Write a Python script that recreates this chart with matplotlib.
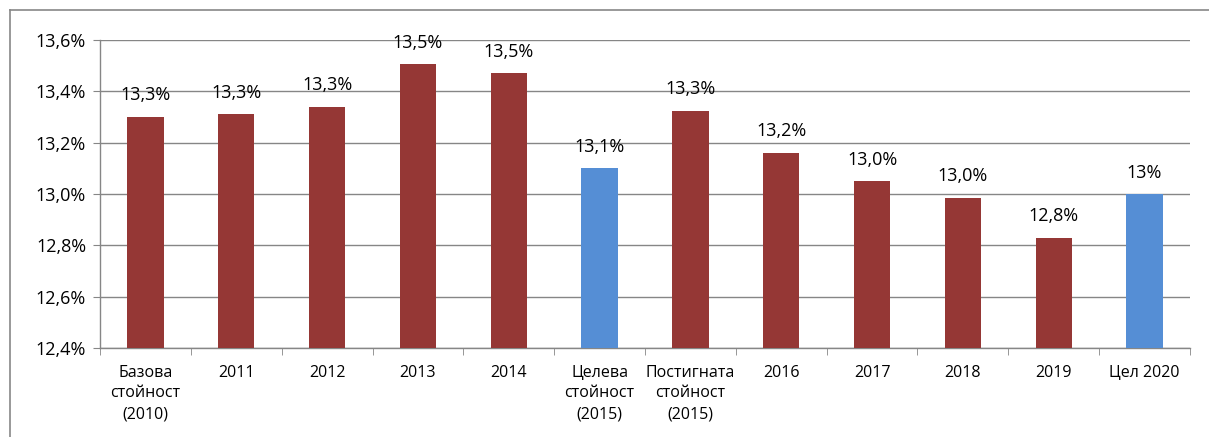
import matplotlib
matplotlib.use("Agg")
import matplotlib.pyplot as plt
from matplotlib.lines import Line2D

categories = ["Базова\nстойност\n(2010)", "2011", "2012", "2013", "2014",
              "Целева\nстойност\n(2015)", "Постигната\nстойност\n(2015)",
              "2016", "2017", "2018", "2019", "Цел 2020"]
values = [13.30, 13.31, 13.34, 13.505, 13.47, 13.10, 13.325, 13.16, 13.05, 12.985, 12.83, 13.00]
labels = ["13,3%", "13,3%", "13,3%", "13,5%", "13,5%", "13,1%", "13,3%",
          "13,2%", "13,0%", "13,0%", "12,8%", "13%"]
is_target = [False, False, False, False, False, True, False, False, False, False, False, True]
yticks = [12.4, 12.6, 12.8, 13.0, 13.2, 13.4, 13.6]
ytick_labels = ["12,4%", "12,6%", "12,8%", "13,0%", "13,2%", "13,4%", "13,6%"]

RED = "#953735"
BLUE = "#558ED5"
GRID = "#868686"

plt.rcParams['font.family'] = ['Open Sans', 'DejaVu Sans']

W, H = 1209, 437
fig = plt.figure(figsize=(W/100, H/100), dpi=100)
ax = fig.add_axes([100/W, 1-348/H, (1190-100)/W, (348-40)/H])

x = list(range(len(categories)))
colors = [BLUE if t else RED for t in is_target]
ax.bar(x, [v - 12.4 for v in values], bottom=12.4, width=0.4, color=colors, zorder=3)

for xi, v, lab in zip(x, values, labels):
    ax.annotate(lab, (xi, v), xytext=(0, 9), textcoords="offset points",
                ha="center", va="bottom", fontsize=13, color="#000000",
                annotation_clip=False, zorder=4)

ax.set_ylim(12.4, 13.6)
ax.set_xlim(-0.5, len(categories) - 0.5)
ax.set_yticks(yticks)
ax.set_yticklabels(ytick_labels, fontsize=13)
ax.set_xticks(x)
ax.set_xticklabels(categories, fontsize=11.5, linespacing=1.4, va="top")
ax.set_xticks([i - 0.5 for i in range(len(categories) + 1)], minor=True)
ax.tick_params(axis="x", which="major", length=0, pad=12)
ax.tick_params(axis="x", which="minor", length=5, color=GRID, direction="out")
ax.tick_params(axis="y", length=5, color=GRID, direction="out", pad=5)

ax.grid(axis="y", color=GRID, linewidth=1, zorder=0)
for s in ["top", "right"]:
    ax.spines[s].set_visible(False)
for s in ["left", "bottom"]:
    ax.spines[s].set_color(GRID)
    ax.spines[s].set_linewidth(1)

# outer chart frame
fig.add_artist(Line2D([10/W, 10/W], [0, 1-10/H], color="#878787", lw=1.2, transform=fig.transFigure))
fig.add_artist(Line2D([10/W, 1], [1-10/H, 1-10/H], color="#878787", lw=1.2, transform=fig.transFigure))

fig.savefig("out.png", dpi=100)
